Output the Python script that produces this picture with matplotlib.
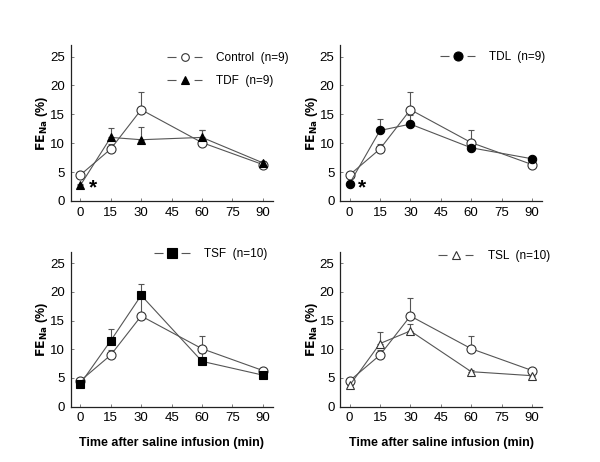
import matplotlib
matplotlib.use("Agg")
import matplotlib.pyplot as plt
from matplotlib.lines import Line2D

plt.rcParams['font.family'] = ['Liberation Sans', 'DejaVu Sans']
plt.rcParams['lines.scale_dashes'] = False

time = [0, 15, 30, 60, 90]
xticks = [0, 15, 30, 45, 60, 75, 90]
yticks = [0, 5, 10, 15, 20, 25]

control = [4.5, 9.0, 15.8, 10.1, 6.3]
control_se = [0.3, 0.9, 3.1, 2.2, 0.3]
tdf = [2.7, 11.0, 10.6, 11.0, 6.6]
tdf_se = [0.3, 1.65, 2.2, 1.3, 0.3]
tdl = [3.0, 12.2, 13.3, 9.2, 7.3]
tdl_se = [0.4, 1.9, 1.5, 0.3, 0.3]
tsf = [4.0, 11.5, 19.4, 7.9, 5.5]
tsf_se = [0.3, 2.0, 1.9, 1.4, 0.3]
tsl = [3.7, 11.0, 13.2, 6.1, 5.4]
tsl_se = [0.3, 2.0, 1.2, 0.3, 0.3]

line_c = '#555555'
edge_c = '#333333'

fig = plt.figure(figsize=(6.0, 4.62), dpi=100)

panels = [
    (0.118, 0.565, 0.3377, tdf, tdf_se, 'TDF  (n=9)', '^', 'black', 5.5, True, False),
    (0.5667, 0.565, 0.3377, tdl, tdl_se, 'TDL  (n=9)', 'o', 'black', 6.0, True, False),
    (0.118, 0.1197, 0.3355, tsf, tsf_se, 'TSF  (n=10)', 's', 'black', 6.0, False, True),
    (0.5667, 0.1197, 0.3355, tsl, tsl_se, 'TSL  (n=10)', '^', 'white', 6.0, False, True),
]
legend_pos = [(0.278, 0.888), (0.733, 0.890), (0.257, 0.463), (0.730, 0.458)]

W = 0.337
for i, (l, b, h, ser, se, lab, mk, fc, ms, star, xl) in enumerate(panels):
    ax = fig.add_axes([l, b, W, h])
    ax.plot(time, control, color=line_c, lw=0.8, marker='o',
            ms=6.5, mfc='white', mec=edge_c, mew=0.8, zorder=3)
    ax.errorbar(time, control, yerr=[[0] * 5, control_se], fmt='none',
                ecolor=line_c, elinewidth=0.8, capsize=2.5, capthick=0.8, zorder=2)
    mec = edge_c if fc == 'white' else 'black'
    ax.plot(time, ser, color=line_c, lw=0.8, marker=mk,
            ms=ms, mfc=fc, mec=mec, mew=0.8, zorder=4)
    ax.errorbar(time, ser, yerr=[[0] * 5, se], fmt='none',
                ecolor=line_c, elinewidth=0.8, capsize=2.5, capthick=0.8, zorder=2)
    ax.set_xlim(-4.7, 95)
    ax.set_ylim(0, 27)
    ax.set_xticks(xticks)
    ax.set_yticks(yticks)
    ax.tick_params(direction='in', length=2, width=0.6, labelsize=9.5, pad=4,
                   color='#666666')
    for s in ['top', 'right']:
        ax.spines[s].set_visible(False)
    for s in ['left', 'bottom']:
        ax.spines[s].set_linewidth(0.9)
        ax.spines[s].set_color('#222222')
    ax.set_ylabel(r'$\mathbf{FE_{Na}}$ (%)', fontsize=9, fontweight='bold', labelpad=0)
    if xl:
        ax.set_xlabel('Time after saline infusion (min)', fontsize=9,
                      fontweight='bold', labelpad=9)
    if star:
        ax.text(6.0, 2.2, '*', fontsize=15, fontweight='bold',
                ha='center', va='center')

    def handle(marker, mfc, mec, ms):
        return Line2D([], [], color=line_c, lw=0.8, ls=(0, (6.5, 13)),
                      marker=marker, mfc=mfc, mec=mec, ms=ms, mew=0.8)

    if i == 0:
        handles = [handle('o', 'white', edge_c, 5.5), handle('^', 'black', 'black', 5.5)]
        labels = ['Control  (n=9)', lab]
    else:
        handles = [handle(mk, fc, mec, 5.5 if fc == 'white' else 6.5)]
        labels = [lab]
    fig.legend(handles, labels, loc='upper left', bbox_to_anchor=legend_pos[i],
               frameon=False, fontsize=8.5, handlelength=3.0, handletextpad=1.2,
               labelspacing=0.95, borderpad=0, borderaxespad=0)

fig.savefig('out.png', dpi=100)
